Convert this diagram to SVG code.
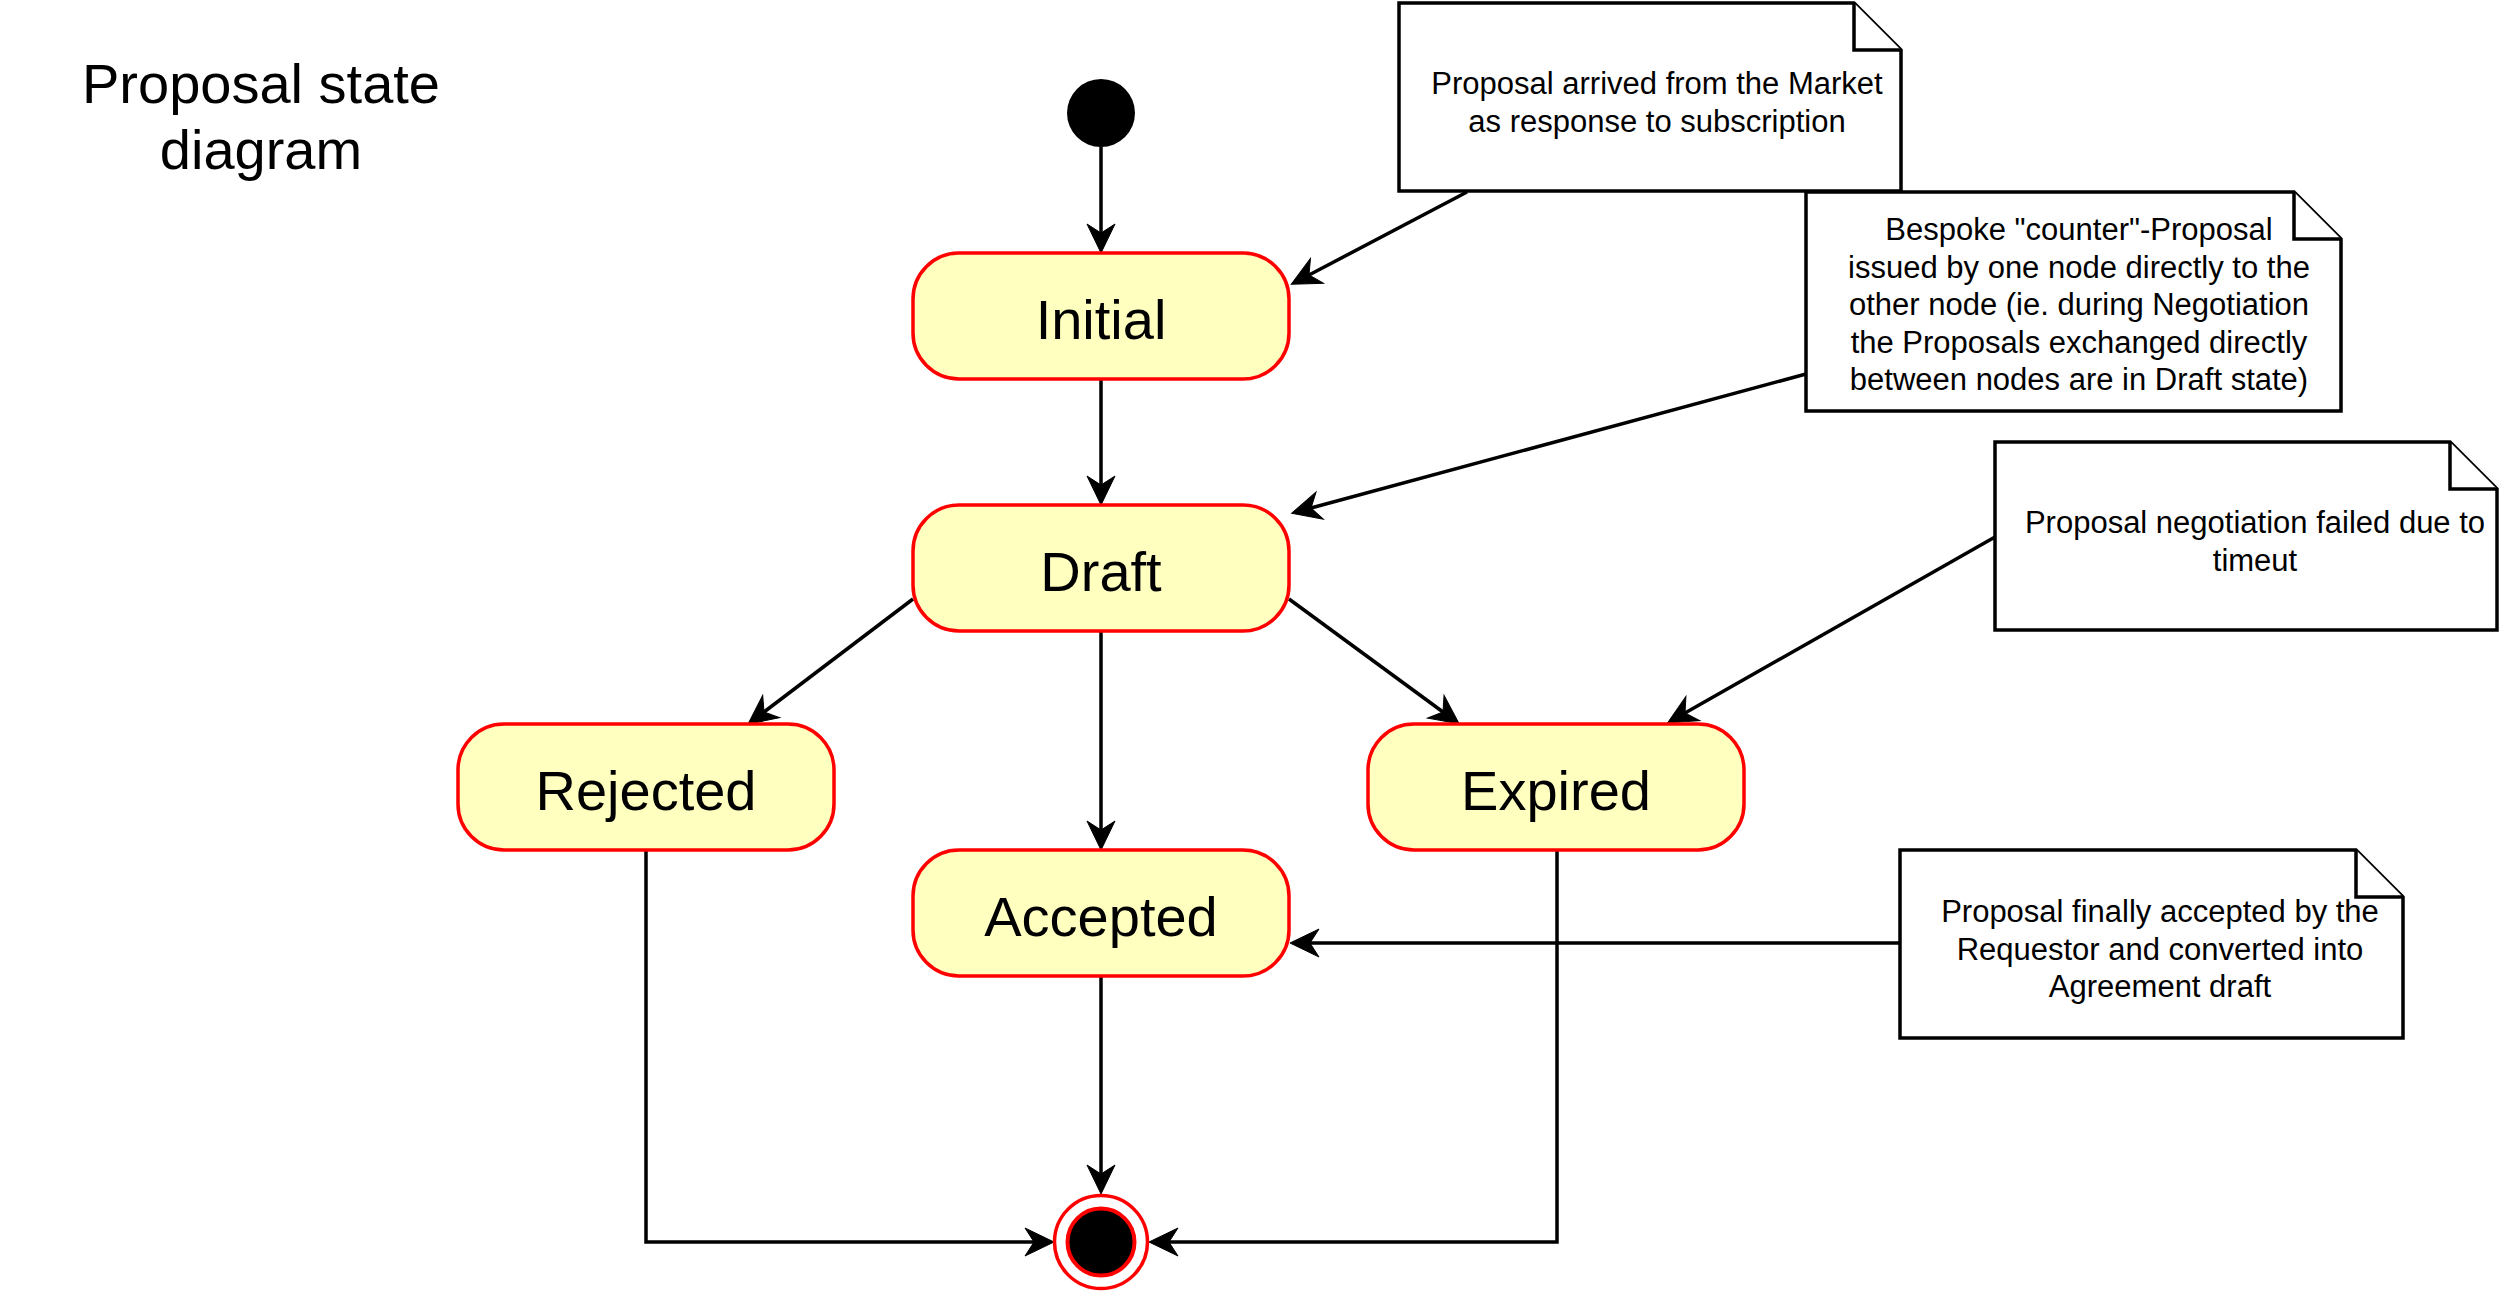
<svg xmlns="http://www.w3.org/2000/svg" width="2500" height="1291" viewBox="0 0 2500 1291">
  <style>
    .state rect { fill: #FFFFC0; stroke: #FF0000; stroke-width: 3.5; }
    .state text { font-family: "Liberation Sans", Arial, sans-serif; font-size: 56px; fill: #000; text-anchor: middle; }
    .note path { fill: #FFFFFF; stroke: #000; stroke-width: 3.5; stroke-linejoin: miter; }
    .note text { font-family: "Liberation Sans", Arial, sans-serif; font-size: 31px; fill: #000; text-anchor: middle; }
    .title { font-family: "Liberation Sans", Arial, sans-serif; font-size: 56px; fill: #000; text-anchor: middle; }
    .edge { fill: none; stroke: #000; stroke-width: 3.5; marker-end: url(#arrow); }
  </style>
  <defs>
    <marker id="arrow" markerUnits="userSpaceOnUse" orient="auto" refX="0" refY="0" markerWidth="60" markerHeight="60" viewBox="-30 -30 60 60" overflow="visible">
      <path d="M20,0 L-9,-14 L0,0 L-9,14 Z" fill="#000" stroke="#000" stroke-width="1"/>
    </marker>
  </defs>
  <rect width="2500" height="1291" fill="#FFFFFF"/>

  <g id="title">
    <text class="title" x="261" y="103">Proposal state</text>
    <text class="title" x="261" y="169">diagram</text>
  </g>

  <g id="connectors">
    <path class="edge" d="M1101,147 L1101,233"/>
    <path class="edge" d="M1101,379 L1101,485"/>
    <path class="edge" d="M1101,631 L1101,830"/>
    <path class="edge" d="M1101,976 L1101,1174"/>
    <path class="edge" d="M913,599 L764,712"/>
    <path class="edge" d="M1289,599 L1443,712"/>
    <path class="edge" d="M646,850 L646,1242 L1034,1242"/>
    <path class="edge" d="M1557,850 L1557,1242 L1169,1242"/>
    <path class="edge" d="M1467,192 L1309,275"/>
    <path class="edge" d="M1806,374 L1311,508"/>
    <path class="edge" d="M1995,537 L1685,713"/>
    <path class="edge" d="M1900,943 L1310,943"/>
  </g>

  <g id="start">
    <circle cx="1101" cy="113" r="34" fill="#000"/>
  </g>

  <g id="initial" class="state">
    <rect x="913" y="253" width="376" height="126" rx="46" ry="46"/>
    <text x="1101" y="339">Initial</text>
  </g>
  <g id="draft" class="state">
    <rect x="913" y="505" width="376" height="126" rx="46" ry="46"/>
    <text x="1101" y="591">Draft</text>
  </g>
  <g id="rejected" class="state">
    <rect x="458" y="724" width="376" height="126" rx="46" ry="46"/>
    <text x="646" y="810">Rejected</text>
  </g>
  <g id="expired" class="state">
    <rect x="1368" y="724" width="376" height="126" rx="46" ry="46"/>
    <text x="1556" y="810">Expired</text>
  </g>
  <g id="accepted" class="state">
    <rect x="913" y="850" width="376" height="126" rx="46" ry="46"/>
    <text x="1101" y="936">Accepted</text>
  </g>

  <g id="end">
    <circle cx="1101" cy="1242" r="46.5" fill="#FFFFFF" stroke="#FF0000" stroke-width="3.5"/>
    <circle cx="1101" cy="1242" r="33.5" fill="#000" stroke="#FF0000" stroke-width="4"/>
  </g>

  <g id="note1" class="note">
    <path d="M1399,3 L1854,3 L1901,50 L1901,191 L1399,191 Z"/>
    <path d="M1854,3 L1854,50 L1901,50"/>
    <text x="1657" y="94">Proposal arrived from the Market</text>
    <text x="1657" y="132">as response to subscription</text>
  </g>
  <g id="note2" class="note">
    <path d="M1806,192 L2294,192 L2341,239 L2341,411 L1806,411 Z"/>
    <path d="M2294,192 L2294,239 L2341,239"/>
    <text x="2079" y="240">Bespoke "counter"-Proposal</text>
    <text x="2079" y="278">issued by one node directly to the</text>
    <text x="2079" y="315">other node (ie. during Negotiation</text>
    <text x="2079" y="353">the Proposals exchanged directly</text>
    <text x="2079" y="390">between nodes are in Draft state)</text>
  </g>
  <g id="note3" class="note">
    <path d="M1995,442 L2450,442 L2497,489 L2497,630 L1995,630 Z"/>
    <path d="M2450,442 L2450,489 L2497,489"/>
    <text x="2255" y="533">Proposal negotiation failed due to</text>
    <text x="2255" y="571">timeut</text>
  </g>
  <g id="note4" class="note">
    <path d="M1900,850 L2356,850 L2403,897 L2403,1038 L1900,1038 Z"/>
    <path d="M2356,850 L2356,897 L2403,897"/>
    <text x="2160" y="922">Proposal finally accepted by the</text>
    <text x="2160" y="960">Requestor and converted into</text>
    <text x="2160" y="997">Agreement draft</text>
  </g>
</svg>
